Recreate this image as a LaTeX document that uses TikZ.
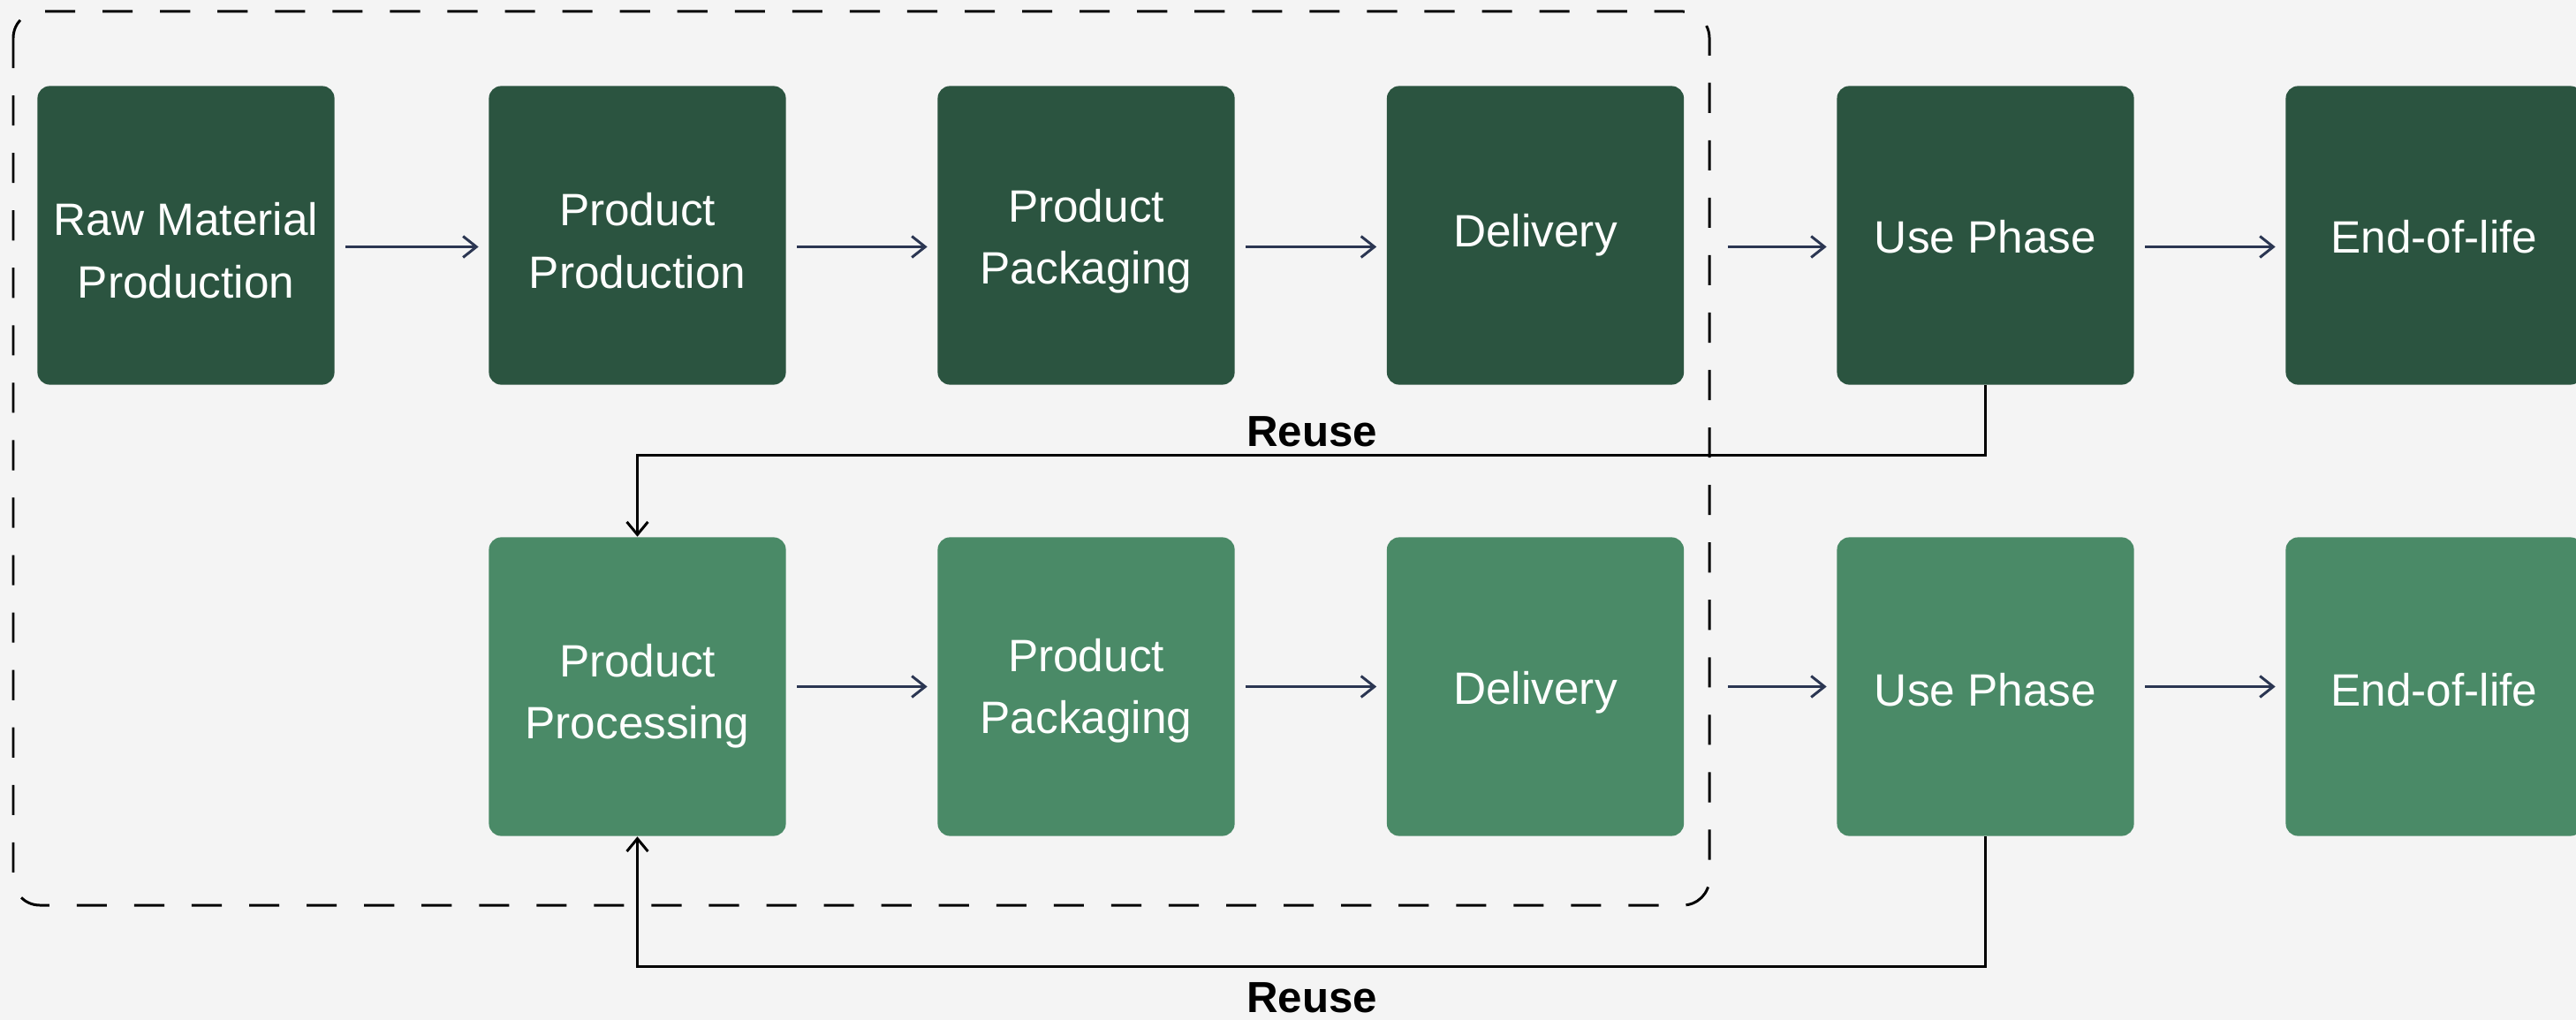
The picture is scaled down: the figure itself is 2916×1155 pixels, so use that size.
\documentclass[tikz,border=0pt]{standalone}
\usepackage{fontspec}
\setmainfont{Liberation Sans}
\usetikzlibrary{arrows.meta}
\definecolor{bgc}{HTML}{F4F4F4}
\definecolor{darkg}{HTML}{2B5440}
\definecolor{lightg}{HTML}{4A8A67}
\definecolor{arrc}{HTML}{2B3652}
\tikzset{
  stagebox/.style={rounded corners=0.14cm, minimum width=3.36cm, minimum height=3.38cm,
    inner sep=0pt},
  darkbox/.style={stagebox, fill=darkg},
  lightbox/.style={stagebox, fill=lightg},
  boxtext/.style={inner sep=0pt, align=center, text=white, font=\fontsize{14.6}{20}\selectfont},
  flowarrow/.style={draw=arrc, line width=0.85pt, -{Straight Barb[length=4.3pt,width=6.8pt,line width=0.85pt]},
    shorten <=0.12cm, shorten >=0.11cm},
  reusearrow/.style={draw=black, line width=0.85pt, -{Straight Barb[length=4.1pt,width=6.8pt,line width=0.85pt]}},
  reuselabel/.style={font=\fontsize{14}{16}\selectfont\bfseries, text=black, inner sep=0pt},
  boundary/.style={draw=black, line width=0.85pt, dash pattern=on 9.7pt off 8.8pt, rounded corners=0.3cm}
}
\begin{document}
\begin{tikzpicture}[x=0.01cm, y=-0.01cm]
\fill[bgc] (0,0) rectangle (2916,1155);
\useasboundingbox (0,0) rectangle (2916,1155);

% dashed boundary
\draw[boundary] (15,13) rectangle (1935,1025);

% row 1
\node[darkbox] (raw)   at (210.5,266.5) {};
\node[darkbox] (prod)  at (721.5,266.5) {};
\node[darkbox] (pack1) at (1229.5,266.5) {};
\node[darkbox] (del1)  at (1738,266.5) {};
\node[darkbox] (use1)  at (2247.5,266.5) {};
\node[darkbox] (eol1)  at (2755.5,266.5) {};
\node[boxtext] (rawt)   at ([yshift=-0.17cm]raw.center) {Raw Material\\Production};
\node[boxtext] (prodt)  at ([yshift=-0.06cm]prod.center) {Product\\Production};
\node[boxtext] (pack1t) at ([yshift=-0.07cm]pack1.center) {Product\\Packaging};
\node[boxtext] (del1t)  at (del1.center) {Delivery};
\node[boxtext] (use1t)  at ([yshift=-0.02cm]use1.center) {Use Phase};
\node[boxtext] (eol1t)  at ([yshift=-0.02cm]eol1.center) {End-of-life};

% row 2
\node[lightbox] (proc)  at (721.5,777.5) {};
\node[lightbox] (pack2) at (1229.5,777.5) {};
\node[lightbox] (del2)  at (1738,777.5) {};
\node[lightbox] (use2)  at (2247.5,777.5) {};
\node[lightbox] (eol2)  at (2755.5,777.5) {};
\node[boxtext] (proct)  at ([yshift=-0.11cm]proc.center) {Product\\Processing};
\node[boxtext] (pack2t) at ([yshift=-0.05cm]pack2.center) {Product\\Packaging};
\node[boxtext] (del2t)  at ([yshift=-0.07cm]del2.center) {Delivery};
\node[boxtext] (use2t)  at ([yshift=-0.04cm]use2.center) {Use Phase};
\node[boxtext] (eol2t)  at ([yshift=-0.04cm]eol2.center) {End-of-life};

% row 1 arrows
\draw[flowarrow] ([yshift=-0.13cm]raw.east) -- ([yshift=-0.13cm]prod.west);
\draw[flowarrow] ([yshift=-0.13cm]prod.east) -- ([yshift=-0.13cm]pack1.west);
\draw[flowarrow] ([yshift=-0.13cm]pack1.east) -- ([yshift=-0.13cm]del1.west);
\draw[flowarrow, shorten <=0.49cm] ([yshift=-0.13cm]del1.east) -- ([yshift=-0.13cm]use1.west);
\draw[flowarrow] ([yshift=-0.13cm]use1.east) -- ([yshift=-0.13cm]eol1.west);

% row 2 arrows
\draw[flowarrow] (proc.east) -- (pack2.west);
\draw[flowarrow] (pack2.east) -- (del2.west);
\draw[flowarrow, shorten <=0.49cm] (del2.east) -- (use2.west);
\draw[flowarrow] (use2.east) -- (eol2.west);

% reuse loops
\draw[reusearrow] (use1.south) -- ++(0,79.5) -| (proc.north);
\draw[reusearrow] (use2.south) -- ++(0,147.5) -| (proc.south);

\node[reuselabel] (reuse1) at (1485,489) {Reuse};
\node[reuselabel] (reuse2) at (1485,1130) {Reuse};
\end{tikzpicture}
\end{document}
